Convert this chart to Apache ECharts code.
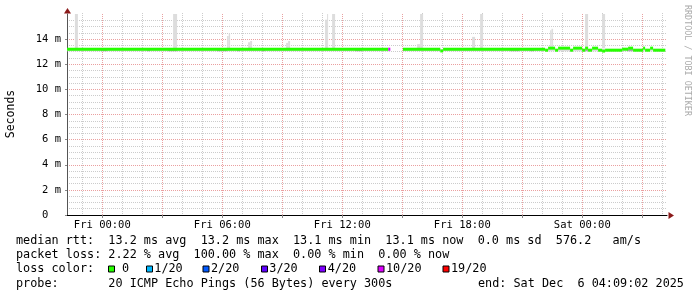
<!DOCTYPE html>
<html>
<head>
<meta charset="utf-8">
<script src="https://cdn.jsdelivr.net/npm/echarts@6/dist/echarts.min.js"></script>
<style>
html,body{margin:0;padding:0;background:#fff;}
#chart{width:697px;height:297px;}
</style>
</head>
<body>
<div id="chart"></div>
<script>
// ---------- data ----------
// x values are hours relative to Fri 00:00
const xMin = -1.765, xMax = 28.235;
const xLabelHours = [0, 6, 12, 18, 24];
const xTickLabels = ['Fri 00:00', 'Fri 06:00', 'Fri 12:00', 'Fri 18:00', 'Sat 00:00'];
const hourGrid = [-1, 1, 2, 4, 5, 7, 8, 10, 11, 13, 14, 16, 17, 19, 20, 22, 23, 25, 26, 28];
const majorGrid = [0, 3, 6, 9, 12, 15, 18, 21, 24, 27];
const yTicks = [0, 2, 4, 6, 8, 10, 12, 14];
const yMax = 16;

// median rtt segments: [hourStart, hourEnd, median ms, loss colour index]
const medianSegments = [
  [-1.765, 14.3, 13.2, 0], [14.3, 14.4, 13.2, 5],
  [15.03, 16.9, 13.2, 0], [16.9, 17.04, 13.06, 0], [17.04, 22.14, 13.2, 0],
  [22.14, 22.29, 13.12, 0], [22.29, 22.64, 13.28, 0], [22.64, 22.79, 13.12, 0],
  [22.79, 23.39, 13.28, 0], [23.39, 23.54, 13.12, 0], [23.54, 23.99, 13.28, 0],
  [23.99, 24.14, 13.12, 0], [24.14, 24.29, 13.28, 0], [24.29, 24.49, 13.12, 0],
  [24.49, 24.79, 13.28, 0], [24.79, 24.99, 13.12, 0], [24.99, 25.14, 13.05, 0],
  [25.14, 25.99, 13.12, 0], [25.99, 26.29, 13.2, 0], [26.29, 26.54, 13.28, 0],
  [26.54, 27.04, 13.12, 0], [27.04, 27.14, 13.28, 0], [27.14, 27.39, 13.12, 0],
  [27.39, 27.54, 13.28, 0], [27.54, 28.15, 13.12, 0]
];

// smoke: [hourStart, hourEnd, low ms, high ms]
const smokeHigh = [
  [-1.37, -1.22, 13.25, 16], [3.54, 3.74, 13.25, 16],
  [6.24, 6.32, 13.25, 14.25], [6.32, 6.39, 13.25, 14.45],
  [7.29, 7.39, 13.25, 13.75], [7.39, 7.49, 13.25, 13.85],
  [9.19, 9.29, 13.25, 13.7], [9.29, 9.39, 13.25, 13.85],
  [11.14, 11.24, 13.25, 15.55], [11.24, 11.29, 13.25, 16],
  [11.49, 11.64, 13.25, 16],
  [15.74, 15.89, 13.25, 13.6], [15.89, 16.04, 13.25, 16],
  [18.49, 18.64, 13.25, 14.18], [18.89, 19.04, 13.25, 16],
  [22.39, 22.46, 13.25, 14.7], [22.46, 22.54, 13.25, 14.82],
  [24.14, 24.29, 13.25, 16], [24.99, 25.14, 13.25, 16]
];
const smokeLow = [[-1.765, 14.4, 13.04, 13.2], [15.03, 28.15, 13.04, 13.2]];
const smokeLowDark = [
  [-0.07, 0.24, 13.04, 13.2], [2.24, 2.39, 13.04, 13.2], [3.29, 3.74, 13.04, 13.2],
  [5.74, 6.24, 13.04, 13.2], [6.74, 6.89, 13.04, 13.2], [7.99, 8.14, 13.04, 13.2],
  [12.64, 12.99, 13.04, 13.2], [20.39, 20.84, 13.04, 13.2], [21.39, 21.59, 13.04, 13.2],
  [24.09, 24.34, 13.04, 13.2], [26.24, 26.54, 13.04, 13.2]
];

const statsLine = 'median rtt:  13.2 ms avg  13.2 ms max  13.1 ms min  13.1 ms now  0.0 ms sd  576.2   am/s';
const lossLine = 'packet loss: 2.22 % avg  100.00 % max  0.00 % min  0.00 % now';
const lossTitle = 'loss color:';
const lossLabels = ['0', '1/20', '2/20', '3/20', '4/20', '10/20', '19/20'];
const lossColors = ['#26ff00', '#00b8ff', '#0059ff', '#5e00ff', '#7e00ff', '#dd00ff', '#ff0000'];
const probeLine = 'probe:       20 ICMP Echo Pings (56 Bytes) every 300s';
const endLine = 'end: Sat Dec  6 04:09:02 2025';
const yTitle = 'Seconds';
const watermark = 'RRDTOOL / TOBI OETIKER';

// ---------- layout ----------
const MONO = '"DejaVu Sans Mono", monospace';
const boxX = [108.5, 146.5, 203, 261.5, 319.5, 378, 443];
const labelX = [122, 154.3, 211, 269.3, 327.7, 386, 451];

const chart = echarts.init(document.getElementById('chart'), null, {renderer: 'canvas'});

function rectSeries(data, color) {
  return {
    type: 'custom',
    xAxisIndex: 0,
    data: data,
    encode: {x: [0, 1], y: [2, 3]},
    silent: true,
    renderItem: function (params, api) {
      const p0 = api.coord([api.value(0), api.value(3)]);
      const p1 = api.coord([api.value(1), api.value(2)]);
      return {
        type: 'rect',
        shape: {x: p0[0], y: p0[1], width: p1[0] - p0[0], height: p1[1] - p0[1]},
        style: {fill: color}
      };
    }
  };
}
const medianSeries = {
  type: 'custom',
  xAxisIndex: 0,
  data: medianSegments,
  encode: {x: [0, 1], y: 2},
  silent: true,
  z: 5,
  renderItem: function (params, api) {
    const p0 = api.coord([api.value(0), api.value(2)]);
    const p1 = api.coord([api.value(1), api.value(2)]);
    return {
      type: 'line',
      shape: {x1: p0[0], y1: p0[1], x2: p1[0], y2: p1[1]},
      style: {stroke: lossColors[api.value(3)], lineWidth: 3}
    };
  }
};
// hourly vertical minor grid, drawn through the x scale
const vGridSeries = {
  type: 'custom',
  xAxisIndex: 0,
  data: hourGrid.map(function (h) { return [h]; }),
  encode: {x: 0},
  silent: true,
  z: 1,
  renderItem: function (params, api) {
    const top = api.coord([api.value(0), yMax]);
    const bot = api.coord([api.value(0), 0]);
    const x = Math.round(top[0]) + 0.5;
    return {
      type: 'line',
      shape: {x1: x, y1: top[1] - 1, x2: x, y2: bot[1]},
      style: {stroke: '#cccccc', lineWidth: 1, lineDash: [1, 1]}
    };
  }
};

const graphics = [];
function txt(x, y, text, size, opts) {
  opts = opts || {};
  graphics.push({
    type: 'text', x: x, y: y, rotation: opts.rotation || 0, silent: true,
    style: {
      text: text, fontFamily: MONO, fontSize: size, fill: opts.fill || '#000',
      textAlign: opts.align || 'left', align: opts.align || 'left',
      textVerticalAlign: 'middle', verticalAlign: 'middle'
    }
  });
}
txt(16, 241, statsLine, 11.8);
txt(16, 255.2, lossLine, 11.8);
txt(16, 269.4, lossTitle, 11.8);
lossLabels.forEach(function (l, i) {
  graphics.push({type: 'rect', silent: true, shape: {x: boxX[i], y: 266, width: 6, height: 6},
    style: {fill: lossColors[i], stroke: '#000', lineWidth: 1}});
  txt(labelX[i], 269.4, l, 11.8);
});
txt(16, 283.6, probeLine, 11.8);
txt(478, 283.6, endLine, 11.8);
txt(11, 114, yTitle, 11.5, {align: 'center', rotation: Math.PI / 2});
txt(687, 5, watermark, 8.4, {fill: '#aaaaaa', rotation: -Math.PI / 2});
// axis arrows
graphics.push({type: 'polygon', silent: true, shape: {points: [[67.5, 8], [64, 13.5], [71, 13.5]]}, style: {fill: '#8b1a1a'}});
graphics.push({type: 'polygon', silent: true, shape: {points: [[674, 215.5], [668.5, 212], [668.5, 219]]}, style: {fill: '#8b1a1a'}});

const gridGray = {color: '#cccccc', width: 1, type: [1, 1]};
const gridRed = {color: '#eaa0a0', width: 1, type: [1, 1]};
const axisFont = {fontFamily: MONO, fontSize: 10.5, color: '#000'};

chart.setOption({
  animation: false,
  backgroundColor: '#ffffff',
  grid: {left: 67, top: 14, width: 600, height: 201, containLabel: false},
  xAxis: [
    {
      type: 'value', min: xMin, max: xMax, position: 'bottom',
      axisLine: {show: false, onZero: false},
      axisTick: {show: false},
      axisLabel: {show: false},
      splitLine: {show: false}
    },
    {
      type: 'value', min: xMin, max: xMax, position: 'bottom',
      axisLine: {show: true, onZero: false, lineStyle: {color: '#000', width: 1}},
      axisTick: {show: true, customValues: majorGrid, length: 3, lineStyle: {color: '#888'}},
      axisLabel: Object.assign({
        customValues: xLabelHours, margin: 5,
        formatter: function (v) {
          const i = xLabelHours.indexOf(Math.round(v));
          return i >= 0 ? xTickLabels[i] : '';
        }
      }, axisFont),
      splitLine: {show: true, lineStyle: gridRed}
    }
  ],
  yAxis: [{
    type: 'value', min: 0, max: yMax, interval: 2,
    axisLine: {show: true, onZero: false, lineStyle: {color: '#555', width: 1}},
    axisTick: {show: true, customValues: yTicks, length: 2, lineStyle: {color: '#888'}},
    axisLabel: Object.assign({
      customValues: yTicks, margin: 6,
      formatter: function (v) { return v === 0 ? '0  ' : v + ' m'; }
    }, axisFont),
    splitLine: {show: true, lineStyle: gridRed},
    minorTick: {show: false, splitNumber: 4},
    minorSplitLine: {show: true, lineStyle: gridGray}
  }],
  graphic: graphics,
  series: [
    vGridSeries,
    rectSeries(smokeLow, '#dcdcdc'),
    rectSeries(smokeLowDark, '#aaaaaa'),
    rectSeries(smokeHigh, '#dddddd'),
    medianSeries
  ]
});
</script>
</body>
</html>
